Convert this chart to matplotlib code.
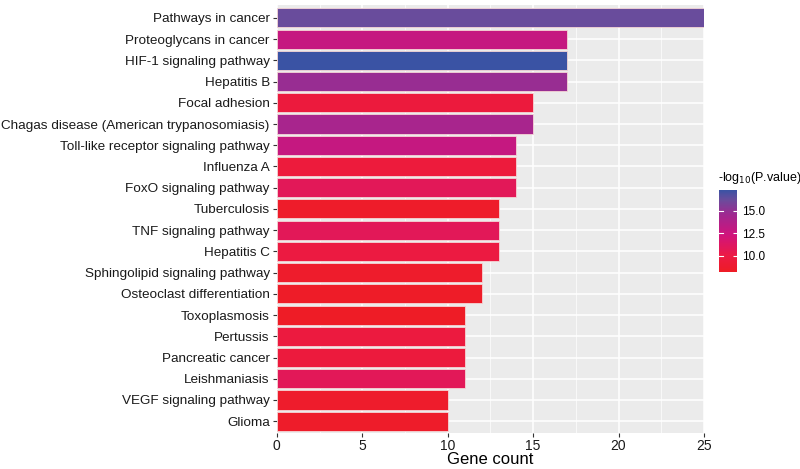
import matplotlib.pyplot as plt
import numpy as np
from matplotlib.colors import LinearSegmentedColormap, Normalize
from matplotlib.cm import ScalarMappable

# ---------------------------------------------------------------------------
# Data (top to bottom as shown)
# ---------------------------------------------------------------------------

pathways = [
    "Pathways in cancer",
    "Proteoglycans in cancer",
    "HIF-1 signaling pathway",
    "Hepatitis B",
    "Focal adhesion",
    "Chagas disease (American trypanosomiasis)",
    "Toll-like receptor signaling pathway",
    "Influenza A",
    "FoxO signaling pathway",
    "Tuberculosis",
    "TNF signaling pathway",
    "Hepatitis C",
    "Sphingolipid signaling pathway",
    "Osteoclast differentiation",
    "Toxoplasmosis",
    "Pertussis",
    "Pancreatic cancer",
    "Leishmaniasis",
    "VEGF signaling pathway",
    "Glioma",
]
gene_count = [25, 17, 17, 17, 15, 15, 14, 14, 14, 13, 13, 13, 12, 12, 11, 11, 11, 11, 10, 10]
neg_log_p = [16.2, 12.8, 17.3, 14.8, 9.6, 14.2, 12.8, 9.5, 10.8, 8.5,
             10.8, 9.8, 8.6, 8.4, 8.3, 9.7, 9.6, 10.8, 8.6, 8.5]

cbar_ticks = [10.0, 12.5, 15.0]
P_MIN, P_MAX = 8.2, 17.3

# ---------------------------------------------------------------------------
# Colour scale: red (low) -> magenta -> blue (high)
# ---------------------------------------------------------------------------

cmap = LinearSegmentedColormap.from_list(
    "red_blue",
    [(0.0, "#EE1C25"), (0.2, "#EC1A45"), (0.45, "#D0147C"),
     (0.7, "#A02890"), (0.88, "#6A4C9C"), (1.0, "#3A53A4")],
)
norm = Normalize(vmin=P_MIN, vmax=P_MAX)

plt.rcParams["font.family"] = ["Liberation Sans", "DejaVu Sans"]

fig = plt.figure(figsize=(8, 4.69), dpi=100)
ax = fig.add_axes([0.346, 0.077, 0.534, 0.912])
ax.set_facecolor("#EBEBEB")

y = np.arange(len(pathways))[::-1] + 1
colors = [cmap(norm(v)) for v in neg_log_p]

ax.set_axisbelow(True)
ax.set_xticks([0, 5, 10, 15, 20, 25])
ax.set_xticks([2.5, 7.5, 12.5, 17.5, 22.5], minor=True)
ax.grid(which="major", axis="both", color="white", linewidth=1.1)
ax.grid(which="minor", axis="x", color="white", linewidth=0.5)

ax.barh(y, gene_count, height=0.9, color=colors, edgecolor="#F5D5D5", linewidth=0.6)

ax.set_xlim(0, 25)
ax.set_ylim(0.45, 20.6)
ax.set_yticks(y)
ax.set_yticklabels(pathways, fontsize=9.7, color="#1A1A1A")
ax.tick_params(axis="x", labelsize=10, colors="#333333", length=3, pad=1.5,
               labelcolor="#1A1A1A")
ax.tick_params(axis="y", colors="#333333", length=3, pad=2, labelcolor="#1A1A1A")
ax.tick_params(which="minor", length=0)
for s in ax.spines.values():
    s.set_visible(False)

ax.set_xlabel("Gene count", fontsize=12, labelpad=-1)

# colour bar legend
cax = fig.add_axes([0.899, 0.420, 0.022, 0.175])
sm = ScalarMappable(norm=norm, cmap=cmap)
cb = fig.colorbar(sm, cax=cax, ticks=cbar_ticks)
cb.outline.set_visible(False)
cb.ax.set_yticklabels([f"{t:.1f}" for t in cbar_ticks], fontsize=8.5)
cb.ax.tick_params(length=3, color="white", width=0.8, direction="in", pad=4)
for t in cbar_ticks:
    cb.ax.plot([0, 0.2], [t, t], color="white", linewidth=0.8,
               transform=cb.ax.get_yaxis_transform())
fig.text(0.897, 0.604, r"-log$_{10}$(P.value)", fontsize=9, ha="left", va="bottom")

fig.savefig("out.png", dpi=100)
